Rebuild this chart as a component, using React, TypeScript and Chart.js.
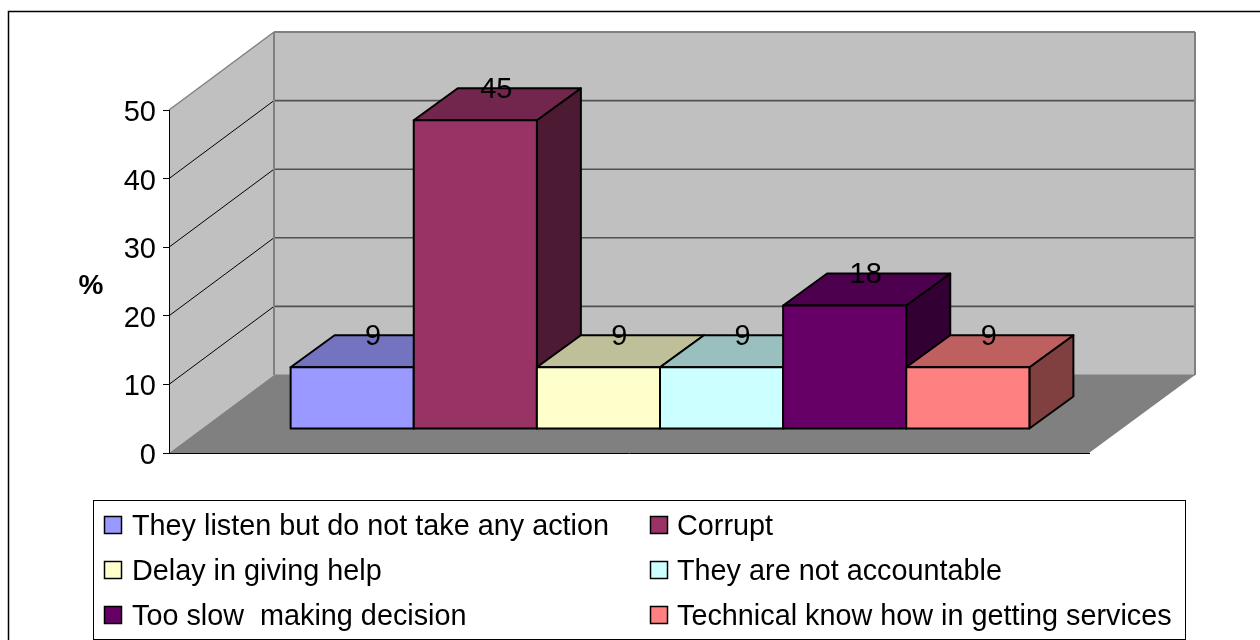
import React, { useEffect, useRef } from "react";
import { Chart, registerables } from "chart.js";

Chart.register(...registerables);

const categories = [""];
const seriesNames = [
  "They listen but do not take any action",
  "Corrupt",
  "Delay in giving help",
  "They are not accountable",
  "Too slow  making decision",
  "Technical know how in getting services",
];
const seriesValues = [9, 45, 9, 9, 18, 9];
const frontColors = ["#9999FF", "#993366", "#FFFFCC", "#CCFFFF", "#660066", "#FF8080"];
const topColors = ["#7373BF", "#73264D", "#BFBF99", "#99BFBF", "#4D004D", "#BF6060"];
const sideColors = ["#4D4D80", "#4D1A33", "#808066", "#668080", "#330033", "#804040"];
const yTicks = [0, 10, 20, 30, 40, 50];
const FONT = '"Liberation Sans", Arial, sans-serif';

// Oblique projection of the box: wall depth and per-bar depth
const WALL_DX = 105;
const WALL_DY = -78;
const BAR_SHIFT_X = 31;
const BAR_SHIFT_Y = -24;
const BAR_DX = 44;
const BAR_DY = -32;

function poly(ctx: CanvasRenderingContext2D, pts: number[][], fill?: string, stroke?: string, lw = 1) {
  ctx.beginPath();
  pts.forEach(([x, y], i) => (i ? ctx.lineTo(x, y) : ctx.moveTo(x, y)));
  ctx.closePath();
  if (fill) {
    ctx.fillStyle = fill;
    ctx.fill();
  }
  if (stroke) {
    ctx.strokeStyle = stroke;
    ctx.lineWidth = lw;
    ctx.lineJoin = "round";
    ctx.stroke();
  }
}

function segment(ctx: CanvasRenderingContext2D, x0: number, y0: number, x1: number, y1: number, color: string, lw: number) {
  ctx.beginPath();
  ctx.moveTo(x0, y0);
  ctx.lineTo(x1, y1);
  ctx.strokeStyle = color;
  ctx.lineWidth = lw;
  ctx.stroke();
}

// Outer frame, left and back walls, floor and gridlines
const wallsPlugin = {
  id: "walls",
  beforeDraw(chart: any) {
    const { ctx, chartArea: a, scales } = chart;
    const y = scales.y;
    const y0 = y.getPixelForValue(0);
    const yMax = y.getPixelForValue(50);
    ctx.save();
    ctx.strokeStyle = "#000";
    ctx.lineWidth = 1.5;
    ctx.strokeRect(8.5, 11.5, 1400, 800);

    poly(ctx, [[a.left, yMax], [a.left + WALL_DX, yMax + WALL_DY], [a.left + WALL_DX, y0 + WALL_DY], [a.left, y0]], "#C0C0C0");
    poly(ctx, [[a.left + WALL_DX, yMax + WALL_DY], [a.right + WALL_DX + 1, yMax + WALL_DY], [a.right + WALL_DX + 1, y0 + WALL_DY], [a.left + WALL_DX, y0 + WALL_DY]], "#C0C0C0");
    poly(ctx, [[a.left, y0], [a.left + WALL_DX, y0 + WALL_DY], [a.right + WALL_DX + 1, y0 + WALL_DY], [a.right, y0]], "#808080");

    for (const t of yTicks) {
      const py = y.getPixelForValue(t);
      if (t > 0 && t < 50) {
        segment(ctx, a.left, py, a.left + WALL_DX, py + WALL_DY, "#000", 1);
        segment(ctx, a.left + WALL_DX, py + WALL_DY, a.right + WALL_DX + 1, py + WALL_DY, "#505050", 1.6);
      }
    }
    const edge = "#808080";
    segment(ctx, a.left, yMax, a.left + WALL_DX, yMax + WALL_DY, edge, 1.5);
    segment(ctx, a.left + WALL_DX, yMax + WALL_DY, a.right + WALL_DX + 1, yMax + WALL_DY, edge, 2);
    segment(ctx, a.left + WALL_DX, yMax + WALL_DY, a.left + WALL_DX, y0 + WALL_DY, edge, 2);
    segment(ctx, a.right + WALL_DX + 1, yMax + WALL_DY, a.right + WALL_DX + 1, y0 + WALL_DY, edge, 2);
    segment(ctx, a.left + WALL_DX, y0 + WALL_DY, a.right + WALL_DX + 1, y0 + WALL_DY, edge, 1);

    // Axis title sits upright beside the value axis
    ctx.fillStyle = "#000";
    ctx.font = `bold 28px ${FONT}`;
    ctx.textAlign = "center";
    ctx.textBaseline = "middle";
    ctx.fillText("%", 91, 286);
    ctx.restore();
  },
};

// Bars are painted left to right so each box overlaps the one before it
const boxesPlugin = {
  id: "boxes",
  beforeDatasetDraw() {
    return false;
  },
  afterDatasetsDraw(chart: any) {
    const { ctx } = chart;
    const bars = seriesNames.map((_, i) => chart.getDatasetMeta(i).data[0]);
    ctx.save();
    ctx.translate(BAR_SHIFT_X, BAR_SHIFT_Y);
    bars.forEach((el: any, i: number) => {
      const l = el.x - el.width / 2;
      const r = el.x + el.width / 2;
      const t = el.y;
      const b = el.base;
      poly(ctx, [[r, t], [r + BAR_DX, t + BAR_DY], [r + BAR_DX, b + BAR_DY], [r, b]], sideColors[i], "#000", 2);
      poly(ctx, [[l, t], [l + BAR_DX, t + BAR_DY], [r + BAR_DX, t + BAR_DY], [r, t]], topColors[i], "#000", 2);
      el.draw(ctx);
      poly(ctx, [[l, t], [r, t], [r, b], [l, b]], undefined, "#000", 2);
    });
    ctx.fillStyle = "#000";
    ctx.font = `29px ${FONT}`;
    ctx.textAlign = "center";
    ctx.textBaseline = "middle";
    bars.forEach((el: any, i: number) => {
      ctx.fillText(String(seriesValues[i]), el.x + 21, el.y + BAR_DY + 1.5);
    });
    ctx.restore();
  },
};

// Two-column legend box underneath the plot
const legendPlugin = {
  id: "boxLegend",
  afterDraw(chart: any) {
    const { ctx } = chart;
    ctx.save();
    ctx.fillStyle = "#fff";
    ctx.fillRect(93, 500, 1092, 139);
    ctx.strokeStyle = "#000";
    ctx.lineWidth = 1;
    ctx.strokeRect(93.5, 500.5, 1092, 139);
    ctx.font = `28.8px ${FONT}`;
    ctx.textAlign = "left";
    ctx.textBaseline = "middle";
    chart.data.datasets.forEach((ds: any, i: number) => {
      const col = i % 2;
      const row = Math.floor(i / 2);
      const cy = 525.5 + row * 45;
      const sx = col === 0 ? 104.5 : 650.5;
      const tx = col === 0 ? 132 : 677;
      ctx.fillStyle = ds.backgroundColor;
      ctx.fillRect(sx, cy - 9, 17, 17);
      ctx.lineWidth = 1.5;
      ctx.strokeRect(sx, cy - 9, 17, 17);
      ctx.fillStyle = "#000";
      ctx.fillText(ds.label, tx, cy + 2);
    });
    ctx.restore();
  },
};

export default function App() {
  const canvasRef = useRef<HTMLCanvasElement | null>(null);

  useEffect(() => {
    const chart = new Chart(canvasRef.current as HTMLCanvasElement, {
      type: "bar",
      data: {
        labels: categories,
        datasets: seriesNames.map((label, i) => ({
          label,
          data: [seriesValues[i]],
          backgroundColor: frontColors[i],
          borderWidth: 0,
          categoryPercentage: 0.803,
          barPercentage: 1,
        })),
      },
      options: {
        responsive: false,
        animation: false,
        layout: { padding: { left: 0, right: 171, top: 110, bottom: 187 } },
        plugins: { legend: { display: false }, tooltip: { enabled: false }, title: { display: false } },
        scales: {
          x: {
            grid: { display: true, drawOnChartArea: false, drawTicks: false },
            border: { display: true, color: "#000", width: 1 },
            ticks: { display: false },
            afterFit(scale: any) {
              scale.height = 0;
            },
          },
          y: {
            min: 0,
            max: 50,
            afterFit(scale: any) {
              scale.width = 169;
            },
            grid: { display: true, drawOnChartArea: false, drawTicks: true, tickLength: 6, color: "#000" },
            border: { display: true, color: "#000", width: 1 },
            ticks: {
              stepSize: 10,
              padding: 7,
              labelOffset: 3,
              color: "#000",
              font: { family: FONT, size: 29 },
            },
          },
        },
      },
      plugins: [wallsPlugin, boxesPlugin, legendPlugin],
    } as any);
    return () => chart.destroy();
  }, []);

  return (
    <div style={{ position: "fixed", left: 0, top: 0, width: 1260, height: 640, background: "#fff" }}>
      <canvas ref={canvasRef} width={1260} height={640} style={{ display: "block" }} />
    </div>
  );
}
